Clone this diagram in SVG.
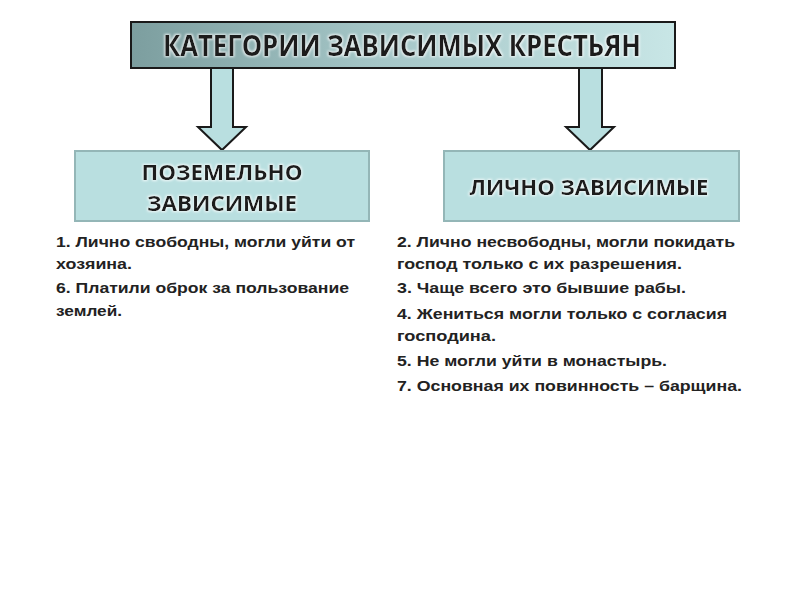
<svg xmlns="http://www.w3.org/2000/svg" width="800" height="600" viewBox="0 0 800 600">
<defs>
<linearGradient id="tg" x1="0" y1="0" x2="1" y2="0">
<stop offset="0" stop-color="#7c9e9f"/>
<stop offset="0.45" stop-color="#a5c6c7"/>
<stop offset="1" stop-color="#c8e6e6"/>
</linearGradient>
<filter id="glow" x="-10%" y="-30%" width="120%" height="160%">
<feMorphology in="SourceAlpha" operator="dilate" radius="1" result="d"/>
<feGaussianBlur in="d" stdDeviation="1.2" result="b"/>
<feFlood flood-color="#ffffff" flood-opacity="0.75"/>
<feComposite in2="b" operator="in" result="w"/>
<feMerge><feMergeNode in="w"/><feMergeNode in="SourceGraphic"/></feMerge>
</filter>
</defs>
<style>
.head{font-family:"Open Sans","Noto Sans",sans-serif;font-weight:bold;fill:#1a1a1a;}
.box{fill:#b9dfe0;stroke:#94b6b7;stroke-width:2;}
.arrow{fill:#b9dfe0;stroke:#1a1a1a;stroke-width:2;stroke-linejoin:miter;}
.item{font-family:"Liberation Sans",Arial,sans-serif;font-weight:bold;font-size:15.5px;fill:#222222;}
</style>
<rect width="800" height="600" fill="#ffffff"/>
<g id="connectors">
<path class="arrow" d="M211,68 L233,68 L233,127 L246,127 L222,150 L198,127 L211,127 Z"/>
<path class="arrow" d="M579,68 L602,68 L602,127 L614,127 L590,150 L566,127 L579,127 Z"/>
</g>
<g id="title">
<rect x="131" y="22" width="544" height="46" fill="url(#tg)" stroke="#1a1a1a" stroke-width="2"/>
<text class="head" x="402" y="56" font-size="29" text-anchor="middle" textLength="478" lengthAdjust="spacingAndGlyphs" filter="url(#glow)">КАТЕГОРИИ ЗАВИСИМЫХ КРЕСТЬЯН</text>
</g>
<g id="node-left">
<rect class="box" x="75" y="151" width="294" height="70"/>
<text class="head" x="222" y="180" font-size="22" text-anchor="middle" textLength="161" lengthAdjust="spacingAndGlyphs" filter="url(#glow)">ПОЗЕМЕЛЬНО</text>
<text class="head" x="222" y="211" font-size="22" text-anchor="middle" textLength="150" lengthAdjust="spacingAndGlyphs" filter="url(#glow)">ЗАВИСИМЫЕ</text>
</g>
<g id="node-right">
<rect class="box" x="444" y="151" width="295" height="70"/>
<text class="head" x="589" y="195" font-size="22" text-anchor="middle" textLength="239" lengthAdjust="spacingAndGlyphs" filter="url(#glow)">ЛИЧНО ЗАВИСИМЫЕ</text>
</g>
<g id="list-left">
<text class="item" x="56" y="247" textLength="299" lengthAdjust="spacingAndGlyphs">1. Лично свободны, могли уйти от</text>
<text class="item" x="56" y="269" textLength="76" lengthAdjust="spacingAndGlyphs">хозяина.</text>
<text class="item" x="56" y="293" textLength="293" lengthAdjust="spacingAndGlyphs">6. Платили оброк за пользование</text>
<text class="item" x="56" y="316" textLength="66" lengthAdjust="spacingAndGlyphs">землей.</text>
</g>
<g id="list-right">
<text class="item" x="397" y="247" textLength="338" lengthAdjust="spacingAndGlyphs">2. Лично несвободны, могли покидать</text>
<text class="item" x="397" y="269" textLength="285" lengthAdjust="spacingAndGlyphs">господ только с их разрешения.</text>
<text class="item" x="397" y="293" textLength="289" lengthAdjust="spacingAndGlyphs">3. Чаще всего это бывшие рабы.</text>
<text class="item" x="397" y="319" textLength="330" lengthAdjust="spacingAndGlyphs">4. Жениться могли только с согласия</text>
<text class="item" x="397" y="341" textLength="99" lengthAdjust="spacingAndGlyphs">господина.</text>
<text class="item" x="397" y="366" textLength="270" lengthAdjust="spacingAndGlyphs">5. Не могли уйти в монастырь.</text>
<text class="item" x="397" y="391" textLength="345" lengthAdjust="spacingAndGlyphs">7. Основная их повинность – барщина.</text>
</g>
</svg>
